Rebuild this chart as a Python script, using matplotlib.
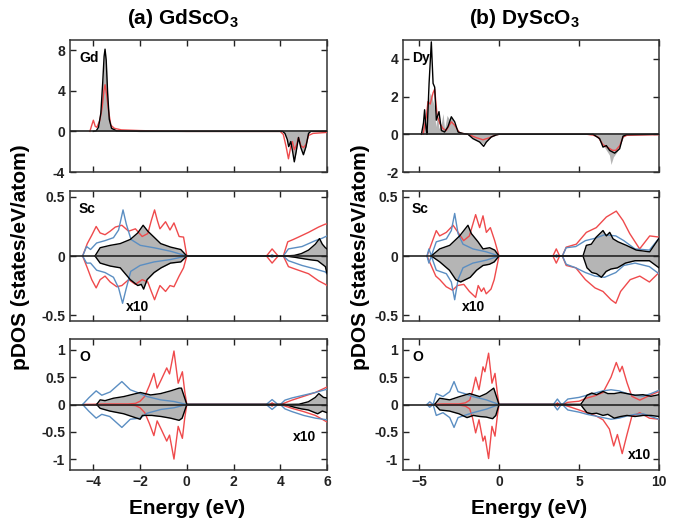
import numpy as np
import matplotlib.pyplot as plt

plt.rcParams['font.family'] = ['Liberation Sans', 'DejaVu Sans']
plt.rcParams['font.weight'] = 'bold'
plt.rcParams['mathtext.fontset'] = 'custom'
plt.rcParams['mathtext.rm'] = 'Liberation Sans:bold'
plt.rcParams['mathtext.bf'] = 'Liberation Sans:bold'

RED = '#ef4a4c'
BLUE = '#5b8ec2'
GREY = '#b5b5b5'

# (energy eV, pDOS) pairs; positive = spin up, negative = spin down

# ---- (a) GdScO3 ----
gd_black = [(-4.0, 0), (-3.88, 0.05), (-3.78, 0.4), (-3.68, 1.8), (-3.6, 4.8), (-3.54, 7.4),
            (-3.5, 8.1), (-3.45, 7.0), (-3.39, 3.8), (-3.32, 1.2), (-3.22, 0.3), (-3.0, 0.05),
            (-2.0, 0), (4.1, 0), (4.2, -0.2), (4.3, -0.8), (4.36, -1.5), (4.45, -1.0), (4.53, -2.0),
            (4.6, -3.0), (4.68, -2.0), (4.78, -0.6), (4.88, -1.6), (4.99, -2.3), (5.1, -1.5),
            (5.21, -0.2), (5.3, 0), (6.0, 0)]
gd_red = [(-4.15, 0), (-4.07, 0.6), (-4.0, 1.1), (-3.92, 0.5), (-3.85, 0.4), (-3.72, 1.1),
          (-3.62, 2.4), (-3.55, 4.0), (-3.5, 4.6), (-3.43, 3.6), (-3.35, 2.0), (-3.25, 0.6),
          (-3.1, 0.3), (-2.8, 0.15), (-2.0, 0.08), (-1.0, 0.02), (0.0, 0), (4.0, 0), (4.13, -0.3),
          (4.25, -1.5), (4.35, -2.7), (4.45, -1.5), (4.52, -1.0), (4.6, -1.8), (4.7, -1.3),
          (4.78, -0.6), (4.88, -1.4), (4.99, -1.6), (5.1, -1.3), (5.21, -0.4), (5.4, -0.2),
          (6.0, -0.1)]

sca_black_up = [(-3.93, 0), (-3.71, 0.07), (-3.28, 0.09), (-2.85, 0.105), (-2.42, 0.14),
                (-2.1, 0.195), (-1.87, 0.26), (-1.67, 0.21), (-1.38, 0.155), (-1.12, 0.105),
                (-0.69, 0.075), (-0.26, 0.055), (0, 0), (4.2, 0), (4.6, 0.005), (4.9, 0.02),
                (5.21, 0.05), (5.5, 0.1), (5.68, 0.147), (5.8, 0.1), (5.93, 0.07), (6.0, 0.06)]
sca_black_dn = [(-3.93, 0), (-3.71, -0.06), (-3.28, -0.085), (-2.85, -0.1), (-2.42, -0.2),
                (-2.1, -0.25), (-1.95, -0.24), (-1.85, -0.28), (-1.7, -0.2), (-1.4, -0.14),
                (-1.1, -0.1), (-0.7, -0.06), (-0.26, -0.05), (0, 0), (4.2, 0), (4.6, -0.01),
                (5.21, -0.03), (5.6, -0.04), (5.93, -0.09), (6.0, -0.15)]
sca_red_up = [(-4.46, 0), (-4.26, 0.105), (-4.07, 0.175), (-3.88, 0.25), (-3.71, 0.195),
              (-3.5, 0.18), (-3.28, 0.21), (-3.06, 0.245), (-2.78, 0.26), (-2.49, 0.21),
              (-2.2, 0.23), (-1.91, 0.165), (-1.67, 0.19), (-1.52, 0.3), (-1.38, 0.39),
              (-1.26, 0.3), (-1.15, 0.23), (-0.91, 0.29), (-0.72, 0.22), (-0.55, 0.28),
              (-0.33, 0.165), (-0.14, 0.16), (0, 0), (3.41, 0), (3.65, 0.06), (3.91, 0),
              (4.13, 0), (4.32, 0.12), (4.56, 0.14), (4.78, 0.16), (5.21, 0.2), (5.64, 0.245),
              (5.93, 0.27), (6.0, 0.27)]
sca_red_dn = [(-4.46, 0), (-4.26, -0.1), (-4.07, -0.2), (-3.88, -0.27), (-3.71, -0.2),
              (-3.5, -0.17), (-3.28, -0.22), (-3.0, -0.26), (-2.78, -0.25), (-2.49, -0.2),
              (-2.2, -0.24), (-1.91, -0.2), (-1.67, -0.22), (-1.52, -0.3), (-1.38, -0.37),
              (-1.25, -0.3), (-1.15, -0.25), (-0.91, -0.3), (-0.72, -0.25), (-0.55, -0.26),
              (-0.33, -0.17), (-0.14, -0.1), (0, 0), (3.41, 0), (3.65, -0.06), (3.91, 0),
              (4.13, 0), (4.35, -0.09), (4.63, -0.11), (5.21, -0.15), (5.64, -0.21),
              (5.93, -0.24), (6.0, -0.25)]
sca_blue_up = [(-4.46, 0), (-4.29, 0.08), (-4.12, 0.055), (-3.86, 0.11), (-3.5, 0.13),
               (-3.14, 0.155), (-2.92, 0.22), (-2.73, 0.39), (-2.59, 0.27), (-2.39, 0.14),
               (-1.99, 0.09), (-1.41, 0.07), (-0.69, 0.04), (0, 0), (3.55, 0), (3.65, 0.01),
               (3.75, 0), (4.13, 0), (4.35, 0.06), (4.93, 0.08), (5.5, 0.13), (5.79, 0.15),
               (6.0, 0.17)]
sca_blue_dn = [(-4.46, 0), (-4.29, -0.06), (-4.12, -0.06), (-3.86, -0.12), (-3.5, -0.14),
               (-3.14, -0.18), (-2.92, -0.27), (-2.75, -0.4), (-2.6, -0.28), (-2.4, -0.13),
               (-2.0, -0.08), (-1.4, -0.05), (-0.7, -0.03), (0, 0), (3.55, 0), (3.65, -0.01),
               (3.75, 0), (4.13, 0), (4.35, -0.04), (4.93, -0.08), (5.5, -0.11), (5.93, -0.135),
               (6.0, -0.15)]

oa_black_up = [(-3.86, 0), (-3.71, 0.085), (-3.5, 0.07), (-3.14, 0.115), (-2.7, 0.145),
               (-1.99, 0.22), (-1.55, 0.175), (-1.12, 0.2), (-0.69, 0.25), (-0.33, 0.3),
               (-0.23, 0.3), (0, 0), (4.2, 0), (4.8, 0.005), (5.2, 0.05), (5.5, 0.13),
               (5.65, 0.2), (5.85, 0.13), (6.0, 0.12)]
oa_black_dn = [(-3.86, 0), (-3.71, -0.07), (-3.3, -0.12), (-2.7, -0.17), (-2.0, -0.27),
               (-1.9, -0.2), (-1.5, -0.2), (-1.1, -0.22), (-0.7, -0.25), (-0.33, -0.29),
               (-0.2, -0.25), (0, 0), (4.2, 0), (4.6, -0.05), (4.9, -0.08), (5.2, -0.1),
               (5.6, -0.17), (5.8, -0.12), (6.0, -0.15)]
oa_red_up = [(-4.4, 0), (-3.5, 0.01), (-2.5, 0.01), (-2.2, 0.02), (-2.0, 0.06), (-1.8, 0.15),
             (-1.6, 0.35), (-1.41, 0.57), (-1.27, 0.3), (-1.1, 0.45), (-0.86, 0.67),
             (-0.74, 0.56), (-0.55, 0.98), (-0.37, 0.39), (-0.19, 0.6), (-0.09, 0.24), (0, 0),
             (3.55, 0), (3.65, 0.03), (3.75, 0), (4.0, 0), (4.2, 0.03), (4.5, 0.08),
             (5.0, 0.15), (5.5, 0.22), (6.0, 0.32)]
oa_red_dn = [(-4.4, 0), (-3.5, -0.01), (-2.5, -0.01), (-2.2, -0.02), (-2.0, -0.06),
             (-1.8, -0.15), (-1.6, -0.35), (-1.41, -0.57), (-1.27, -0.3), (-1.1, -0.45),
             (-0.86, -0.67), (-0.74, -0.56), (-0.55, -1.0), (-0.37, -0.4), (-0.19, -0.62),
             (-0.09, -0.25), (0, 0), (3.55, 0), (3.65, -0.03), (3.75, 0), (4.0, 0),
             (4.5, -0.07), (5.0, -0.13), (5.5, -0.2), (6.0, -0.32)]
oa_blue_up = [(-4.46, 0), (-4.2, 0.12), (-3.88, 0.25), (-3.64, 0.17), (-3.28, 0.23),
              (-2.78, 0.42), (-2.42, 0.27), (-1.99, 0.2), (-1.7, 0.145), (-1.12, 0.085),
              (-0.55, 0.055), (0, 0), (3.4, 0), (3.65, 0.09), (3.9, 0), (4.0, 0), (4.2, 0.08),
              (4.5, 0.12), (5.0, 0.17), (5.5, 0.22), (6.0, 0.28)]
oa_blue_dn = [(-4.46, 0), (-4.2, -0.12), (-3.88, -0.25), (-3.64, -0.18), (-3.3, -0.22),
              (-2.78, -0.42), (-2.42, -0.27), (-2.0, -0.25), (-1.7, -0.16), (-1.1, -0.09),
              (-0.55, -0.06), (0, 0), (3.4, 0), (3.65, -0.09), (3.9, 0), (4.0, 0),
              (4.2, -0.08), (4.5, -0.13), (5.0, -0.2), (5.5, -0.25), (6.0, -0.28)]

# ---- (b) DyScO3 ----
dy_grey = [(-4.85, 0), (-4.7, 0.8), (-4.6, 0.2), (-4.45, 1.6), (-4.3, 2.2), (-4.2, 2.0),
           (-4.05, 1.5), (-3.95, 0.4), (-3.85, 1.1), (-3.75, 0.3), (-3.6, 0.6), (-3.5, 1.1),
           (-3.4, 0.3), (-3.25, 1.0), (-3.1, 0.8), (-2.95, 0.9), (-2.8, 0.5), (-2.6, 0.1),
           (-2.3, 0), (-1.9, 0), (-1.6, -0.2), (-1.3, -0.35), (-1.0, -0.5), (-0.8, -0.4),
           (-0.5, -0.15), (0, 0), (5.9, 0), (6.3, -0.3), (6.6, -0.7), (6.9, -1.1), (7.0, -1.6),
           (7.15, -1.2), (7.4, -0.9), (7.6, -0.5), (7.8, -0.1), (8.0, 0), (10, 0)]
dy_black = [(-4.85, 0), (-4.72, 0.6), (-4.65, 1.3), (-4.56, 0.3), (-4.5, 0), (-4.37, 2.7),
            (-4.23, 4.9), (-4.12, 2.7), (-4.02, 2.5), (-3.92, 0.75), (-3.75, 1.2), (-3.6, 0.2),
            (-3.4, 0.12), (-3.19, 0.4), (-2.98, 0.93), (-2.77, 0.66), (-2.56, 0.12),
            (-2.25, 0.04), (-1.94, 0), (-1.63, -0.23), (-1.21, -0.41), (-0.96, -0.64),
            (-0.79, -0.41), (-0.48, -0.14), (-0.17, -0.03), (0, 0), (5.88, 0), (6.29, -0.23),
            (6.5, -0.68), (6.71, -0.6), (6.92, -0.86), (7.23, -1.0), (7.54, -0.77),
            (7.75, -0.1), (7.96, -0.02), (10, 0)]
dy_red = [(-4.75, 0), (-4.54, 0.93), (-4.44, 1.73), (-4.3, 1.6), (-4.12, 2.2), (-4.02, 2.4),
          (-3.87, 1.0), (-3.7, 0.57), (-3.5, 0.3), (-3.3, 0.2), (-2.98, 0.66), (-2.77, 0.48),
          (-2.46, 0.07), (-1.94, 0), (-1.42, -0.18), (-1.0, -0.29), (-0.58, -0.18),
          (-0.2, -0.03), (0, 0), (5.5, 0), (5.9, -0.05), (6.2, -0.15), (6.5, -0.55),
          (6.8, -0.7), (7.1, -0.85), (7.3, -0.85), (7.55, -0.6), (7.75, -0.15), (8.0, -0.05),
          (10, -0.02)]

scb_black_up = [(-4.23, 0), (-3.71, 0.06), (-3.08, 0.09), (-2.46, 0.17), (-1.94, 0.26),
                (-1.73, 0.19), (-1.31, 0.12), (-1.0, 0.06), (-0.58, 0.07), (-0.27, 0.05),
                (0, 0), (5.25, 0), (5.46, 0.09), (5.77, 0.1), (6.08, 0.16), (6.5, 0.215),
                (6.71, 0.17), (6.92, 0.2), (7.13, 0.145), (7.44, 0.12), (7.96, 0.09),
                (8.58, 0.05), (9.42, 0.035), (10, 0.15)]
scb_black_dn = [(-4.23, 0), (-3.7, -0.05), (-3.1, -0.12), (-2.7, -0.2), (-2.4, -0.22),
                (-2.1, -0.2), (-1.8, -0.18), (-1.4, -0.12), (-1.0, -0.08), (-0.6, -0.07),
                (-0.3, -0.05), (0, 0), (5.25, 0), (5.5, -0.1), (5.8, -0.14), (6.1, -0.15),
                (6.4, -0.18), (6.7, -0.13), (7.0, -0.11), (7.4, -0.1), (7.9, -0.06),
                (8.5, -0.04), (9.4, -0.04), (10, -0.1)]
scb_red_up = [(-4.5, 0), (-3.92, 0.215), (-3.71, 0.17), (-3.29, 0.2), (-2.87, 0.26),
              (-2.56, 0.2), (-2.21, 0.13), (-1.85, 0.17), (-1.46, 0.35), (-1.21, 0.24),
              (-1.0, 0.34), (-0.79, 0.2), (-0.54, 0.24), (-0.27, 0.13), (0, 0), (3.37, 0),
              (3.58, 0.06), (3.79, 0), (3.96, 0), (4.2, 0.075), (4.83, 0.1), (5.46, 0.2),
              (6.08, 0.24), (6.71, 0.33), (7.33, 0.38), (7.75, 0.3), (8.17, 0.19),
              (8.79, 0.06), (9.42, 0.17), (10, 0.16)]
scb_red_dn = [(-4.5, 0), (-3.95, -0.17), (-3.7, -0.2), (-3.3, -0.26), (-2.9, -0.29),
              (-2.6, -0.25), (-2.2, -0.24), (-1.85, -0.3), (-1.46, -0.35), (-1.3, -0.25),
              (-1.1, -0.3), (-0.95, -0.27), (-0.8, -0.32), (-0.5, -0.28), (-0.3, -0.2), (0, 0),
              (3.37, 0), (3.58, -0.06), (3.79, 0), (3.96, 0), (4.2, -0.08), (4.8, -0.1),
              (5.4, -0.2), (6.0, -0.27), (6.5, -0.3), (7.0, -0.37), (7.3, -0.4), (7.6, -0.3),
              (8.2, -0.2), (8.8, -0.17), (9.4, -0.22), (10, -0.14)]
scb_blue_up = [(-4.5, 0), (-4.38, 0.06), (-4.23, 0), (-3.92, 0.12), (-3.29, 0.145),
               (-2.98, 0.215), (-2.77, 0.36), (-2.56, 0.19), (-2.25, 0.1), (-1.63, 0.06),
               (-0.79, 0.035), (0, 0), (3.5, 0), (3.6, 0.01), (3.7, 0), (3.96, 0), (4.2, 0.07),
               (4.8, 0.08), (5.4, 0.13), (6.0, 0.15), (6.6, 0.18), (7.3, 0.17), (7.8, 0.13),
               (8.5, 0.06), (9.4, 0.05), (10, 0.15)]
scb_blue_dn = [(-4.5, 0), (-4.38, -0.06), (-4.23, 0), (-3.92, -0.12), (-3.29, -0.15),
               (-2.98, -0.22), (-2.77, -0.37), (-2.56, -0.2), (-2.25, -0.1), (-1.63, -0.06),
               (-0.79, -0.035), (0, 0), (3.5, 0), (3.6, -0.01), (3.7, 0), (3.96, 0),
               (4.2, -0.07), (4.8, -0.1), (5.4, -0.14), (6.0, -0.17), (6.6, -0.18),
               (7.3, -0.14), (7.8, -0.08), (8.5, -0.06), (9.4, -0.09), (10, -0.15)]

ob_black_up = [(-4.02, 0), (-3.71, 0.115), (-3.08, 0.085), (-2.46, 0.145), (-1.83, 0.2),
               (-1.21, 0.145), (-0.79, 0.2), (-0.33, 0.3), (0, 0), (5.1, 0), (5.25, 0.06),
               (5.5, 0.17), (5.8, 0.21), (6.1, 0.18), (6.5, 0.24), (6.8, 0.2), (7.2, 0.2),
               (7.6, 0.22), (8.0, 0.2), (8.5, 0.17), (9.0, 0.18), (9.5, 0.15), (10, 0.18)]
ob_black_dn = [(-4.02, 0), (-3.7, -0.1), (-3.1, -0.12), (-2.5, -0.17), (-2.0, -0.24),
               (-1.6, -0.2), (-1.2, -0.22), (-0.8, -0.23), (-0.4, -0.26), (-0.2, -0.2), (0, 0),
               (5.1, 0), (5.25, -0.06), (5.5, -0.15), (5.8, -0.17), (6.1, -0.16), (6.5, -0.2),
               (6.8, -0.18), (7.2, -0.25), (7.6, -0.22), (8.0, -0.2), (8.5, -0.22),
               (9.0, -0.2), (9.5, -0.2), (10, -0.22)]
ob_red_up = [(-4.3, 0), (-3.5, 0.01), (-2.5, 0.01), (-2.1, 0.03), (-1.83, 0.08), (-1.65, 0.25),
             (-1.46, 0.5), (-1.25, 0.27), (-1.0, 0.69), (-0.88, 0.6), (-0.65, 0.94),
             (-0.44, 0.39), (-0.25, 0.57), (-0.1, 0.2), (0, 0), (3.55, 0), (3.65, 0.03),
             (3.75, 0), (3.96, 0), (4.3, 0.04), (5.0, 0.06), (5.5, 0.12), (6.0, 0.16),
             (6.5, 0.22), (7.0, 0.5), (7.33, 0.77), (7.55, 0.6), (7.7, 0.7), (8.0, 0.4),
             (8.3, 0.15), (8.8, 0.08), (9.3, 0.15), (10, 0.24)]
ob_red_dn = [(-4.3, 0), (-3.5, -0.01), (-2.5, -0.01), (-2.1, -0.03), (-1.83, -0.08),
             (-1.65, -0.25), (-1.46, -0.52), (-1.25, -0.28), (-1.0, -0.67), (-0.88, -0.58),
             (-0.65, -0.99), (-0.44, -0.4), (-0.25, -0.58), (-0.1, -0.2), (0, 0), (3.55, 0),
             (3.65, -0.03), (3.75, 0), (3.96, 0), (4.5, -0.05), (5.0, -0.1), (5.5, -0.15),
             (6.0, -0.2), (6.5, -0.28), (6.9, -0.45), (7.17, -0.76), (7.4, -0.55),
             (7.7, -0.9), (8.0, -0.55), (8.3, -0.22), (8.8, -0.15), (9.4, -0.25),
             (10, -0.27)]
ob_blue_up = [(-4.5, 0), (-4.33, 0.05), (-4.12, 0), (-3.92, 0.2), (-3.5, 0.145),
              (-3.08, 0.235), (-2.81, 0.42), (-2.56, 0.235), (-2.15, 0.2), (-1.63, 0.145),
              (-0.79, 0.085), (0, 0), (3.4, 0), (3.65, 0.1), (3.9, 0), (3.96, 0), (4.3, 0.1),
              (5.0, 0.13), (5.5, 0.17), (6.0, 0.21), (6.5, 0.25), (7.0, 0.27), (7.5, 0.25),
              (8.0, 0.2), (8.5, 0.17), (9.0, 0.15), (9.5, 0.2), (10, 0.26)]
ob_blue_dn = [(-4.5, 0), (-4.33, -0.05), (-4.12, 0), (-3.92, -0.2), (-3.5, -0.15),
              (-3.08, -0.24), (-2.81, -0.42), (-2.56, -0.24), (-2.15, -0.2), (-1.63, -0.15),
              (-0.79, -0.085), (0, 0), (3.4, 0), (3.65, -0.1), (3.9, 0), (3.96, 0),
              (4.3, -0.1), (5.0, -0.14), (5.5, -0.18), (6.0, -0.21), (6.5, -0.24),
              (7.0, -0.27), (7.5, -0.25), (8.0, -0.21), (8.5, -0.18), (9.0, -0.17),
              (9.5, -0.22), (10, -0.27)]

titles = ['(a) GdScO$_3$', '(b) DyScO$_3$']
xlims = [(-5, 6), (-6, 10)]
xticks = [[-4, -2, 0, 2, 4, 6], [-5, 0, 5, 10]]
row_ylims = [[(-4, 9), (-2, 5)], [(-0.55, 0.55)] * 2, [(-1.2, 1.2)] * 2]
row_yticks = [[[-4, 0, 4, 8], [-2, 0, 2, 4]], [[-0.5, 0, 0.5]] * 2, [[-1, -0.5, 0, 0.5, 1]] * 2]
row_names = [['Gd', 'Dy'], ['Sc', 'Sc'], ['O', 'O']]


def draw(ax, pts, color, fill=False, lw=1.0, z=3):
    e, v = np.array(pts).T
    if fill:
        ax.fill_between(e, v, 0, color=GREY, lw=0, zorder=1)
    ax.plot(e, v, color=color, lw=lw, zorder=z)


fig = plt.figure(figsize=(6.81, 5.22), dpi=100)
W, H = 681, 522
cols_px = [(70, 327), (403, 659)]
rows_px = [(40, 172), (191, 321), (339, 470)]

axes = [[None, None] for _ in range(3)]
for r, (t, b) in enumerate(rows_px):
    for c, (l, rr) in enumerate(cols_px):
        ax = fig.add_axes([l / W, 1 - b / H, (rr - l) / W, (b - t) / H])
        axes[r][c] = ax
        ax.set_xlim(*xlims[c])
        ax.set_ylim(*row_ylims[r][c])
        ax.set_xticks(xticks[c])
        ax.set_yticks(row_yticks[r][c])
        ax.set_yticklabels(['%g' % y for y in row_yticks[r][c]])
        ax.tick_params(direction='in', top=True, right=True, length=4, width=1,
                       labelsize=10, colors='#222222')
        if r < 2:
            ax.tick_params(labelbottom=False)
        for s in ax.spines.values():
            s.set_linewidth(1.1)
            s.set_color('#333333')
        ax.axhline(0, color='#222222', lw=1.2, zorder=5)
        ax.text(0.035, 0.86, row_names[r][c], transform=ax.transAxes, fontsize=10,
                fontweight='bold', ha='left', va='center', zorder=6)

# Gd
ax = axes[0][0]
draw(ax, gd_black, 'none', fill=True)
draw(ax, gd_red, RED)
draw(ax, gd_black, 'black', z=4)

# Dy
ax = axes[0][1]
draw(ax, dy_grey, 'none', fill=True)
draw(ax, dy_red, RED)
draw(ax, dy_black, 'black', z=4)

panels = [(axes[1][0], sca_black_up, sca_black_dn, sca_red_up, sca_red_dn, sca_blue_up, sca_blue_dn),
          (axes[2][0], oa_black_up, oa_black_dn, oa_red_up, oa_red_dn, oa_blue_up, oa_blue_dn),
          (axes[1][1], scb_black_up, scb_black_dn, scb_red_up, scb_red_dn, scb_blue_up, scb_blue_dn),
          (axes[2][1], ob_black_up, ob_black_dn, ob_red_up, ob_red_dn, ob_blue_up, ob_blue_dn)]
for ax, bu, bd, ru, rd, lu, ld in panels:
    draw(ax, bu, 'none', fill=True)
    draw(ax, bd, 'none', fill=True)
    draw(ax, ru, RED)
    draw(ax, rd, RED)
    draw(ax, lu, BLUE)
    draw(ax, ld, BLUE)
    draw(ax, bu, 'black', z=4)
    draw(ax, bd, 'black', z=4)

axes[1][0].text(-2.1, -0.43, 'x10', fontsize=10, fontweight='bold', ha='center', va='center')
axes[2][0].text(5.05, -0.6, 'x10', fontsize=10, fontweight='bold', ha='center', va='center')
axes[1][1].text(-1.6, -0.43, 'x10', fontsize=10, fontweight='bold', ha='center', va='center')
axes[2][1].text(8.8, -0.93, 'x10', fontsize=10, fontweight='bold', ha='center', va='center')

fig.text(183 / W, 1 - 18 / H, titles[0], fontsize=15, fontweight='bold', ha='center', va='center')
fig.text(524 / W, 1 - 18 / H, titles[1], fontsize=15, fontweight='bold', ha='center', va='center')
for xc in (187, 529):
    fig.text(xc / W, 1 - 508 / H, 'Energy (eV)', fontsize=15, fontweight='bold',
             ha='center', va='center')
for xc in (21, 361):
    fig.text(xc / W, 1 - 257 / H, 'pDOS (states/eV/atom)', fontsize=15, fontweight='bold',
             rotation=90, ha='center', va='center')

fig.savefig('out.png', dpi=100)
